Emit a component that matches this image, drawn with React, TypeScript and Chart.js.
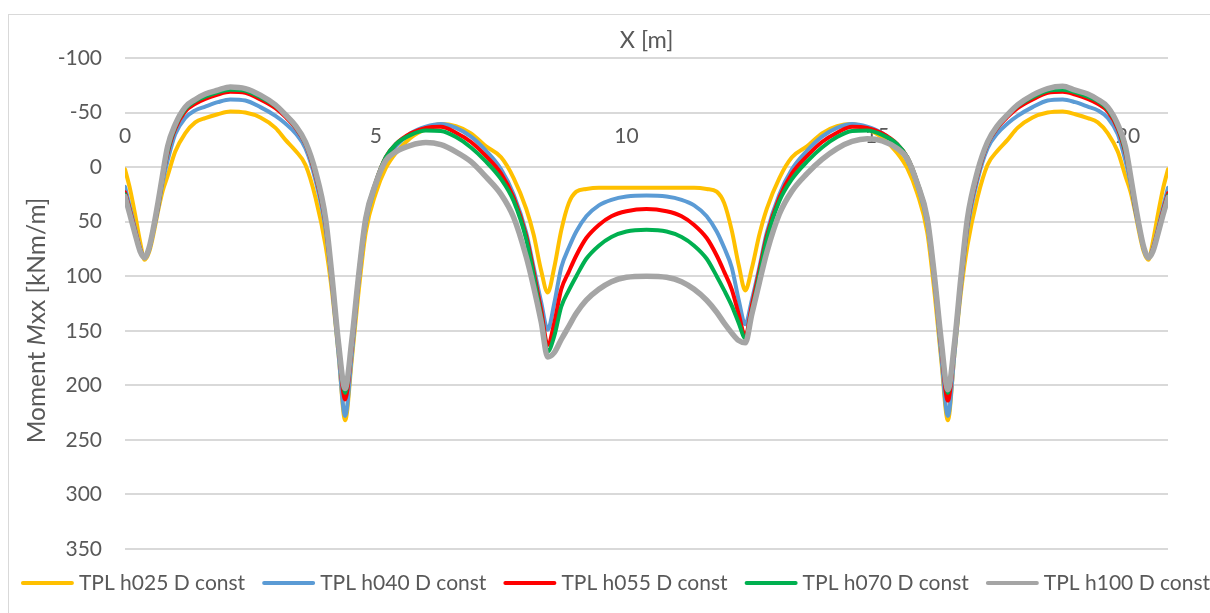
import React, { useEffect, useRef } from 'react';
import { Chart, registerables } from 'chart.js';

Chart.register(...registerables);

// X positions [m]
const xValues = [
  0, 0.1, 0.2, 0.3, 0.39, 0.48, 0.57, 0.66, 0.75, 0.85,
  1.0, 1.2, 1.4, 1.6, 1.85, 2.1, 2.4, 2.7, 3.0, 3.2,
  3.4, 3.6, 3.8, 4.0, 4.13, 4.26, 4.39, 4.52, 4.65, 4.8,
  5.0, 5.2, 5.4, 5.7, 6.0, 6.3, 6.6, 6.9, 7.2, 7.5,
  7.75, 8.0, 8.15, 8.3, 8.43, 8.56, 8.7, 8.85, 9.0, 9.2,
  9.45, 9.7, 10.0, 10.4,
  10.8, 11.1, 11.35, 11.6, 11.8, 11.95, 12.1, 12.24, 12.37, 12.5,
  12.65, 12.8, 13.05, 13.3, 13.6, 13.9, 14.2, 14.5, 14.8, 15.1,
  15.4, 15.6, 15.8, 16.0, 16.15, 16.28, 16.41, 16.54, 16.67, 16.8,
  17.0, 17.2, 17.4, 17.6, 17.8, 18.1, 18.4, 18.7, 18.95, 19.2,
  19.4, 19.6, 19.8, 19.95, 20.05, 20.14, 20.23, 20.32, 20.41, 20.5,
  20.6, 20.7, 20.8,
];

const h025 = [
  2, 20, 43, 68, 85, 78, 61, 40, 22, 8,
  -14, -31, -41, -45, -48.5, -51, -50, -45.5, -36, -25,
  -15, -2, 28, 72, 115, 172, 232, 178, 118, 60,
  24, 1, -13, -27, -35, -39.5, -37.5, -31, -19, -9,
  10, 38, 62, 95, 115, 92, 58, 33, 22.5, 20,
  19, 19, 19, 19,
  19, 19, 19, 20, 22.5, 33, 58, 90, 113, 93,
  62, 38, 10, -9, -19, -31, -37.5, -39.5, -35, -27,
  -13, 1, 24, 60, 118, 178, 232, 172, 115, 72,
  28, -2, -15, -25, -36, -45.5, -50, -51, -48.5, -45,
  -41, -31, -14, 8, 22, 40, 61, 78, 85, 68,
  43, 20, 2,
];

const h040 = [
  18, 37, 56, 74, 83, 76, 58, 38, 14, -6,
  -30, -45, -52, -55.5, -59.5, -62, -61, -55, -47, -40,
  -31, -17, 12, 57, 110, 172, 228, 174, 110, 52,
  17, -6, -19, -31, -37, -39.5, -36, -28, -15, 2,
  25, 60, 92, 124, 149, 125, 92, 74, 59, 45,
  35, 30, 27, 26,
  27, 30, 35, 45, 59, 74, 92, 122, 144, 122,
  92, 60, 25, 2, -15, -28, -36, -39.5, -37, -31,
  -19, -6, 17, 52, 110, 174, 228, 172, 110, 57,
  12, -17, -31, -40, -47, -55, -61, -62, -59.5, -55.5,
  -52, -45, -30, -6, 14, 38, 58, 76, 83, 74,
  56, 37, 19,
];

const h055 = [
  23, 40, 58, 75, 83, 75, 56, 36, 10, -13,
  -35, -51, -58, -62.5, -66.5, -69, -68, -62, -54, -46,
  -36, -21, 8, 52, 106, 165, 213, 166, 106, 48,
  14, -9, -21, -31, -36, -37, -31.5, -23, -10, 6,
  28, 63, 96, 131, 163, 143, 112, 96, 81, 65,
  53, 45, 40.5, 38.5,
  40.5, 45, 53, 65, 81, 96, 112, 135, 155, 127,
  95, 63, 28, 6, -10, -23, -31.5, -37, -36, -31,
  -21, -9, 14, 48, 106, 166, 214, 165, 106, 52,
  8, -21, -36, -46, -54, -62, -68, -69, -66.5, -62.5,
  -58, -51, -35, -13, 10, 36, 56, 75, 83, 75,
  58, 40, 24,
];

const h070 = [
  25, 42, 60, 76, 83, 75, 55, 35, 9, -15,
  -37, -53, -60.5, -64.5, -68.5, -71, -70, -64, -56, -48,
  -37, -22, 6, 50, 103, 162, 207, 162, 103, 47,
  14, -9, -21, -29.5, -33.5, -33, -27.5, -18, -5, 11,
  31, 66, 100, 137, 169, 155, 128, 113, 100, 84,
  72, 64, 59, 57.5,
  59, 64, 72, 84, 100, 113, 127, 143, 157, 132,
  99, 66, 31, 11, -5, -18, -27.5, -33, -33.5, -29.5,
  -21, -9, 14, 47, 103, 162, 207, 162, 103, 50,
  6, -22, -37, -48, -56, -64, -70, -71, -68.5, -64.5,
  -60.5, -53, -37, -15, 9, 35, 55, 75, 83, 76,
  60, 42, 26,
];

const h100 = [
  27, 44, 61, 77, 83, 74, 55, 32, 7, -19,
  -39, -55, -62, -67, -70.5, -73.5, -72, -66, -57, -48,
  -38, -23, 4, 47, 101, 162, 203, 160, 103, 47,
  15, -6, -14, -20, -22.5, -20.5, -14, -5, 9, 25,
  46, 82, 110, 142, 174, 170, 158, 146, 134, 122,
  112, 105, 101, 100,
  101, 105, 112, 122, 133, 143, 152, 159, 161, 135,
  106, 78, 43, 22, 6, -7, -17, -23.5, -26, -24,
  -17, -8, 15, 47, 103, 160, 204, 162, 101, 47,
  4, -23, -38, -48, -57, -66, -72, -74, -70.5, -67,
  -62, -55, -39, -19, 7, 32, 55, 74, 83, 77,
  61, 44, 28,
];

const seriesNames = [
  'TPL h025 D const',
  'TPL h040 D const',
  'TPL h055 D const',
  'TPL h070 D const',
  'TPL h100 D const',
];
const seriesValues = [h025, h040, h055, h070, h100];
const seriesColors = ['#FFC000', '#5B9BD5', '#FF0000', '#00B050', '#A5A5A5'];
const seriesWidths = [4, 4, 4, 4, 5.5];

const xMin = 0;
const xMax = 20.8;
const xStep = 5;
const yMin = -100;
const yMax = 350;
const yStep = 50;

const TEXT_COLOR = '#595959';
const FONT = 'Lato';
const FONT_SIZE = 21;
const TITLE_SIZE = 24.5;

const axisTitlesPlugin = {
  id: 'axisTitles',
  afterDraw(chart: any) {
    const { ctx, chartArea } = chart;
    ctx.save();
    ctx.fillStyle = TEXT_COLOR;
    ctx.textBaseline = 'middle';
    ctx.textAlign = 'center';
    ctx.font = `23.5px ${FONT}`;
    ctx.fillText('X [m]', (chartArea.left + chartArea.right) / 2, chartArea.top - 18);

    const parts: [string, string][] = [
      ['Moment ', `${TITLE_SIZE}px ${FONT}`],
      ['M', `italic ${TITLE_SIZE}px ${FONT}`],
      ['xx [kNm/m]', `${TITLE_SIZE}px ${FONT}`],
    ];
    let total = 0;
    for (const [t, f] of parts) {
      ctx.font = f;
      total += ctx.measureText(t).width;
    }
    ctx.translate(28, (chartArea.top + chartArea.bottom) / 2 + 17);
    ctx.rotate(-Math.PI / 2);
    ctx.textAlign = 'left';
    let x = -total / 2;
    for (const [t, f] of parts) {
      ctx.font = f;
      ctx.fillText(t, x, 0);
      x += ctx.measureText(t).width;
    }
    ctx.restore();
  },
};

const LEGEND_LINE = 53;
const LEGEND_GAP = 5;
const LEGEND_SPACING = 17;

const legendPlugin = {
  id: 'bottomLegend',
  afterDraw(chart: any) {
    const { ctx, chartArea } = chart;
    const ds = chart.data.datasets;
    ctx.save();
    ctx.font = `${FONT_SIZE}px ${FONT}`;
    const widths = ds.map((d: any) => ctx.measureText(d.label).width);
    const total =
      widths.reduce((a: number, b: number) => a + b, 0) +
      ds.length * (LEGEND_LINE + LEGEND_GAP) +
      (ds.length - 1) * LEGEND_SPACING;
    let x = 606.5 - total / 2;
    const y = chartArea.bottom + 34;
    ds.forEach((d: any, i: number) => {
      ctx.strokeStyle = d.borderColor;
      ctx.lineWidth = 4;
      ctx.lineCap = 'round';
      ctx.beginPath();
      ctx.moveTo(x + 2, y);
      ctx.lineTo(x + LEGEND_LINE - 2, y);
      ctx.stroke();
      x += LEGEND_LINE + LEGEND_GAP;
      ctx.fillStyle = TEXT_COLOR;
      ctx.textAlign = 'left';
      ctx.textBaseline = 'middle';
      ctx.fillText(d.label, x, y);
      x += widths[i] + LEGEND_SPACING;
    });
    ctx.restore();
  },
};

export default function App() {
  const canvasRef = useRef<HTMLCanvasElement | null>(null);

  useEffect(() => {
    if (!canvasRef.current) return;
    const datasets = seriesValues.map((vals, i) => ({
      label: seriesNames[i],
      data: xValues.map((x, j) => ({ x, y: vals[j] })),
      borderColor: seriesColors[i],
      backgroundColor: seriesColors[i],
      borderWidth: seriesWidths[i],
      borderCapStyle: 'round' as const,
      borderJoinStyle: 'round' as const,
      pointRadius: 0,
      pointHoverRadius: 0,
      cubicInterpolationMode: 'monotone' as const,
      fill: false,
      order: seriesValues.length - i,
    }));

    const chart = new Chart(canvasRef.current, {
      type: 'line',
      data: { datasets },
      plugins: [axisTitlesPlugin, legendPlugin],
      options: {
        responsive: false,
        animation: false,
        layout: { padding: { left: 0, right: 0, top: 43, bottom: 64 } },
        scales: {
          x: {
            type: 'linear',
            min: xMin,
            max: xMax,
            position: { y: 0 } as any,
            grid: { display: false, drawTicks: false },
            border: { display: false },
            ticks: {
              stepSize: xStep,
              includeBounds: false,
              padding: -43,
              maxRotation: 0,
              color: TEXT_COLOR,
              font: { family: FONT, size: FONT_SIZE },
            },
          },
          y: {
            type: 'linear',
            reverse: true,
            min: yMin,
            max: yMax,
            grid: { color: '#D9D9D9', lineWidth: 2, drawTicks: false },
            border: { display: false },
            ticks: {
              stepSize: yStep,
              padding: 23,
              color: TEXT_COLOR,
              font: { family: FONT, size: FONT_SIZE },
            },
            afterFit: (s: any) => {
              s.width = 116;
            },
          },
          yRight: {
            type: 'linear',
            position: 'right',
            display: true,
            grid: { display: false, drawTicks: false },
            border: { display: false },
            ticks: { display: false },
            afterFit: (s: any) => {
              s.width = 42;
            },
          },
        },
        plugins: {
          tooltip: { enabled: false },
          title: { display: false },
          legend: { display: false },
        },
      },
    });
    return () => chart.destroy();
  }, []);

  return (
    <div
      style={{
        position: 'absolute',
        left: 8,
        top: 14,
        width: 1202,
        height: 599,
        overflow: 'hidden',
        borderLeft: '1px solid #D9D9D9',
        borderTop: '1px solid #D9D9D9',
        boxSizing: 'border-box',
        background: '#FFFFFF',
      }}
    >
      <canvas ref={canvasRef} width={1201} height={598} style={{ display: 'block' }} />
    </div>
  );
}
